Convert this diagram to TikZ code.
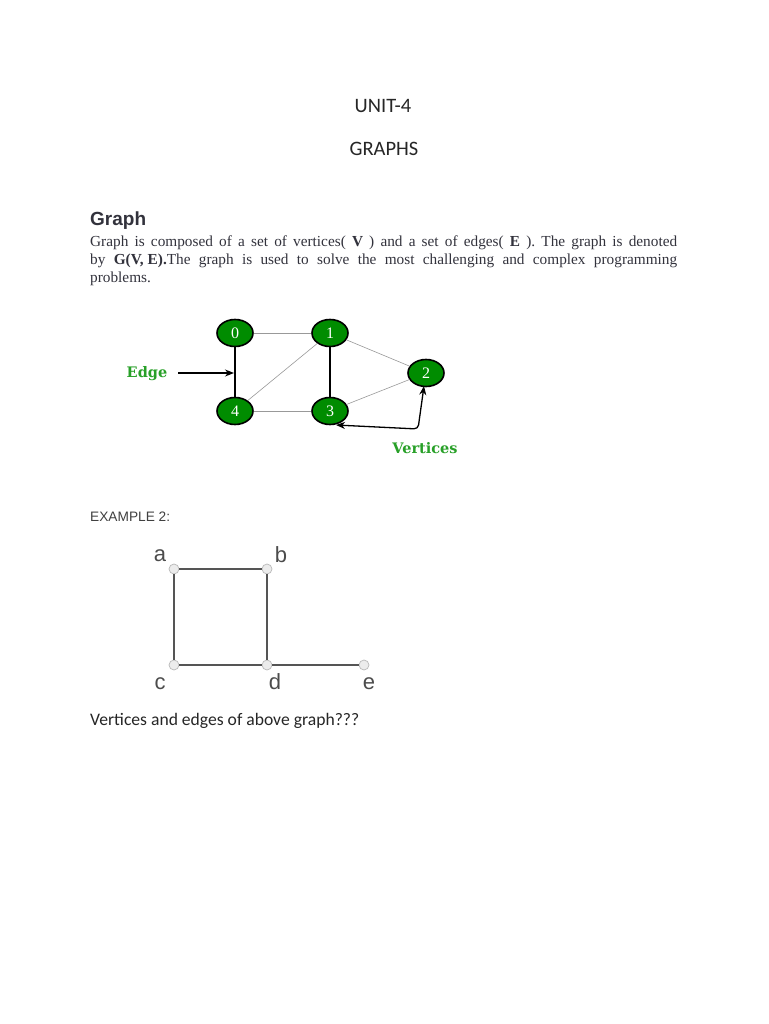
\documentclass[tikz,border=0pt]{standalone}
\usepackage{fontspec}
\setmainfont{Liberation Serif}
\newfontfamily\carl{Carlito}
\newfontfamily\arial{Liberation Sans}
\newfontfamily\dvs{DejaVu Serif}
\usetikzlibrary{arrows.meta,shapes.geometric}
\definecolor{gnode}{RGB}{0,140,0}
\definecolor{gtext}{RGB}{40,160,40}
\definecolor{bodytxt}{RGB}{50,50,60}
\definecolor{exedge}{RGB}{85,85,85}
\begin{document}
\begin{tikzpicture}[x=1pt,y=-1pt,
  gv/.style={ellipse,draw=black,line width=1.6pt,fill=gnode,minimum width=36pt,minimum height=27pt,inner sep=0pt,text=white,font=\fontsize{16}{16}\selectfont},
  thinedge/.style={draw=gray!80,line width=0.6pt},
  thickedge/.style={draw=black,line width=1.1pt},
  lbl/.style={text=gtext,font=\dvs\bfseries\fontsize{14.5}{14.5}\selectfont},
  ptr/.style={draw=black,line width=1.3pt,-{Stealth[length=9pt,width=7pt]}},
  ev/.style={circle,draw=gray!55,fill=gray!15,line width=0.7pt,minimum size=10pt,inner sep=0pt},
  eedge/.style={draw=exedge,line width=2.2pt},
  elab/.style={text=black!70,font=\arial\fontsize{22}{22}\selectfont}]
\useasboundingbox (0,0) rectangle (768,1024);
\fill[white] (0,0) rectangle (768,1024);
% titles
\node[font=\carl\fontsize{20.5}{20.5}\selectfont,text=black!85] (unit) at (383,106) {UNIT-4};
\node[font=\carl\fontsize{20.5}{20.5}\selectfont,text=black!85] (graphs) at (384,149) {GRAPHS};
\node[anchor=west,font=\arial\bfseries\fontsize{19}{19}\selectfont,text=bodytxt,inner sep=0pt] (head) at (90,221) {Graph};
\node[anchor=north west,inner sep=0pt,text width=587pt,align=justify,text=bodytxt,font=\fontsize{15.3}{18}\selectfont] (body) at (90,236)
{Graph is composed of a set of vertices( \textbf{V} ) and a set of edges( \textbf{E} ). The graph is denoted\linebreak by \textbf{G(V,\hspace{4pt}E).}The graph is used to solve the most challenging and complex programming\linebreak problems.};
% graph 1
\node[gv] (n0) at (235,333) {0};
\node[gv] (n1) at (330,333) {1};
\node[gv] (n2) at (426,373) {2};
\node[gv] (n4) at (235,411) {4};
\node[gv] (n3) at (330,411) {3};
\draw[thinedge] (n0) -- (n1);
\draw[thickedge] (n0) -- (n4);
\draw[thinedge] (n1) -- (n4);
\draw[thickedge] (n1) -- (n3);
\draw[thinedge] (n1) -- (n2);
\draw[thinedge] (n3) -- (n2);
\draw[thinedge] (n4) -- (n3);
\node[lbl] (edge) at (147,374) {Edge};
\coordinate (ea) at (178,373);
\coordinate (eb) at (234,373);
\draw[ptr] (ea) -- (eb);
\node[lbl] (vert) at (425,448) {Vertices};
\coordinate (corner) at (418,429);
\draw[draw=black,line width=1.3pt,{Stealth[length=9pt,width=7pt]}-{Stealth[length=9pt,width=7pt]},rounded corners=4pt] (336,425) -- (corner) -- (424,386);
% example 2
\node[anchor=west,inner sep=0pt,font=\arial\fontsize{13.7}{13.7}\selectfont,text=black!75] (ex) at (90,517) {EXAMPLE 2:};
\node[ev] (a) at (174,569) {};
\node[ev] (b) at (267,569) {};
\node[ev] (c) at (174,665) {};
\node[ev] (d) at (267,665) {};
\node[ev] (e) at (364,665) {};
\draw[eedge] (a) -- (b);
\draw[eedge] (a) -- (c);
\draw[eedge] (b) -- (d);
\draw[eedge] (c) -- (d);
\draw[eedge] (d) -- (e);
\node[elab] (la) at (160,556) {a};
\node[elab] (lb) at (281,555) {b};
\node[elab] (lc) at (160,684) {c};
\node[elab] (ld) at (275,682) {d};
\node[elab] (le) at (369,684) {e};
\node[anchor=west,inner sep=0pt,font=\carl\fontsize{17.6}{17.6}\selectfont,text=black!85] (q) at (90,721) {Vertices and edges of above graph???};
\end{tikzpicture}
\end{document}
